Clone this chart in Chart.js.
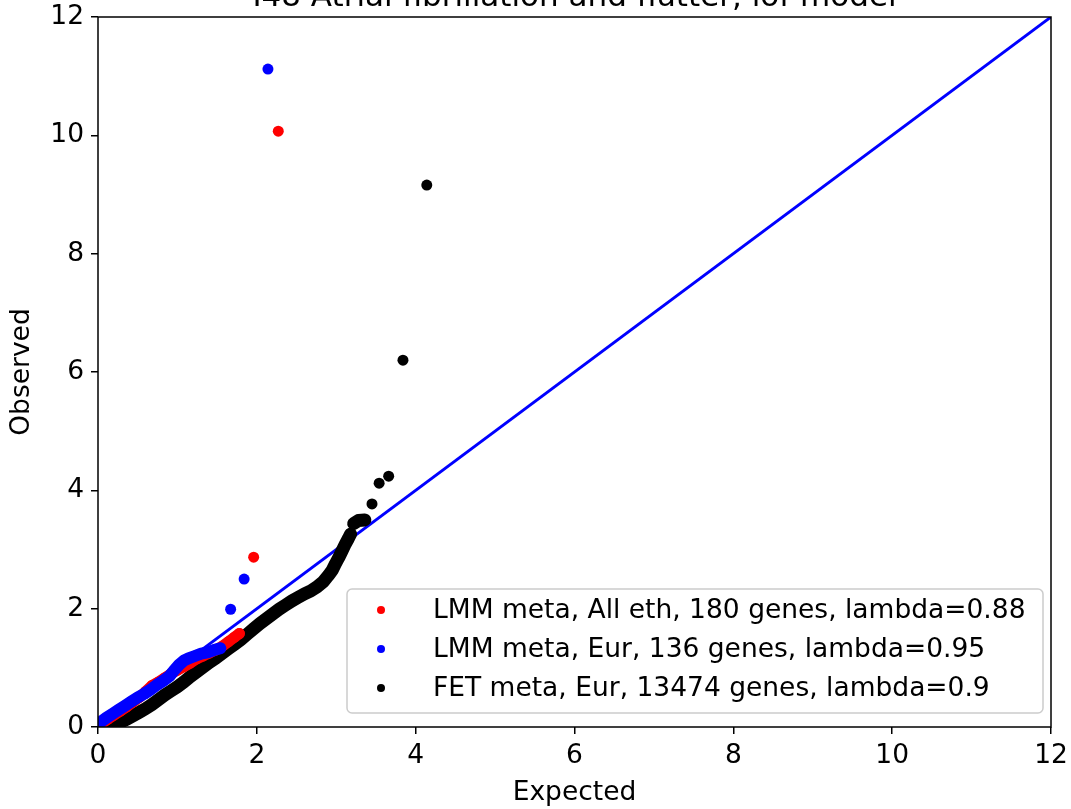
<!DOCTYPE html>
<html>
<head>
<meta charset="utf-8">
<script src="https://cdn.jsdelivr.net/npm/chart.js@4.4.1/dist/chart.umd.min.js"></script>
<style>
  body { margin: 0; background: #fff; }
  canvas { display: block; }
</style>
</head>
<body>
<canvas id="myChart" width="1071" height="809"></canvas>
<script>
var chartTitle = 'I48 Atrial fibrillation and flutter, lof model';
var seriesLabels = [
  'LMM meta, All eth, 180 genes, lambda=0.88',
  'LMM meta, Eur, 136 genes, lambda=0.95',
  'FET meta, Eur, 13474 genes, lambda=0.9'
];
var tickValues = [0, 2, 4, 6, 8, 10, 12];

// LMM meta, all ethnicities (red)
var redExpected = [0.05, 0.12, 0.2, 0.28, 0.36, 0.44, 0.52, 0.6, 0.68, 0.76, 0.84, 0.92, 1.0, 1.08, 1.16, 1.24, 1.32, 1.4, 1.48, 1.56, 1.64, 1.72, 1.78, 1.96, 2.27];
var redObserved = [0.06, 0.13, 0.2, 0.27, 0.34, 0.42, 0.5, 0.6, 0.7, 0.76, 0.83, 0.9, 0.96, 1.02, 1.08, 1.15, 1.2, 1.25, 1.3, 1.36, 1.44, 1.52, 1.58, 2.87, 10.07];

// LMM meta, Eur (blue)
var blueExpected = [0.03, 0.1, 0.18, 0.26, 0.34, 0.42, 0.5, 0.58, 0.66, 0.74, 0.82, 0.9, 0.96, 1.02, 1.08, 1.14, 1.22, 1.3, 1.38, 1.46, 1.54, 1.67, 1.84, 2.14];
var blueObserved = [0.08, 0.15, 0.22, 0.29, 0.36, 0.43, 0.5, 0.56, 0.63, 0.71, 0.78, 0.86, 0.96, 1.05, 1.12, 1.16, 1.2, 1.24, 1.26, 1.3, 1.33, 1.99, 2.5, 11.12];

// FET meta, Eur (black)
var blackExpected = [0.12, 0.2, 0.28, 0.36, 0.44, 0.52, 0.6, 0.68, 0.76, 0.84, 0.92, 1.0, 1.08, 1.16, 1.24, 1.32, 1.4, 1.48, 1.56, 1.64, 1.72, 1.8, 1.88, 1.96, 2.04, 2.12, 2.2, 2.28, 2.36, 2.44, 2.52, 2.6, 2.68, 2.76, 2.84, 2.9, 2.95, 2.99, 3.03, 3.07, 3.11, 3.15, 3.18, 3.22, 3.28, 3.36, 3.45, 3.54, 3.66, 3.84, 4.14];
var blackObserved = [0.0, 0.04, 0.08, 0.13, 0.19, 0.25, 0.31, 0.38, 0.46, 0.54, 0.61, 0.68, 0.76, 0.85, 0.93, 1.01, 1.09, 1.16, 1.24, 1.32, 1.4, 1.48, 1.57, 1.66, 1.75, 1.83, 1.91, 1.99, 2.06, 2.13, 2.19, 2.25, 2.3, 2.37, 2.46, 2.56, 2.65, 2.76, 2.86, 2.97, 3.08, 3.18, 3.26, 3.44, 3.49, 3.5, 3.77, 4.12, 4.24, 6.2, 9.16];

// diagonal
var diagonal = [0, 12];

var seriesColors = ['#ff0000', '#0000ff', '#000000'];
var FONT = 'DejaVu Sans';
var FS = 26.5;

function toPoints(xs, ys) {
  return xs.map(function (x, i) { return { x: x, y: ys[i] }; });
}

// dense runs of points are joined into a thick band, isolated points stay dots
function bandSegment(c) {
  var a = c.p0.parsed, b = c.p1.parsed;
  var d = Math.sqrt((a.x - b.x) * (a.x - b.x) + (a.y - b.y) * (a.y - b.y));
  return d > 0.14 ? 'rgba(0,0,0,0)' : undefined;
}

function pointSeries(label, xs, ys, color, order, width) {
  return {
    label: label,
    data: toPoints(xs, ys),
    backgroundColor: color,
    borderColor: color,
    showLine: true,
    borderWidth: width,
    borderCapStyle: 'round',
    borderJoinStyle: 'round',
    segment: { borderColor: bandSegment },
    pointBorderWidth: 0,
    pointRadius: 5.5,
    order: order
  };
}

function noOverflow(scale) {
  scale.paddingTop = 0;
  scale.paddingBottom = 0;
  scale.paddingLeft = 0;
  scale.paddingRight = 0;
}

var framePlugin = {
  id: 'frame',
  afterDraw: function (chart) {
    var ctx = chart.ctx;
    var a = chart.chartArea;
    ctx.save();
    ctx.strokeStyle = '#000';
    ctx.lineWidth = 1.5;
    ctx.strokeRect(a.left, a.top, a.right - a.left, a.bottom - a.top);

    // title, mostly cut off at top
    ctx.fillStyle = '#000';
    ctx.font = '31px "' + FONT + '"';
    ctx.textAlign = 'center';
    ctx.textBaseline = 'alphabetic';
    ctx.fillText(chartTitle, (a.left + a.right) / 2, 6);

    // legend box inside axes, lower right
    var bx = 347, by = 589, bw = 696, bh = 124, r = 5;
    ctx.beginPath();
    ctx.moveTo(bx + r, by);
    ctx.arcTo(bx + bw, by, bx + bw, by + bh, r);
    ctx.arcTo(bx + bw, by + bh, bx, by + bh, r);
    ctx.arcTo(bx, by + bh, bx, by, r);
    ctx.arcTo(bx, by, bx + bw, by, r);
    ctx.closePath();
    ctx.fillStyle = 'rgba(255,255,255,0.8)';
    ctx.fill();
    ctx.strokeStyle = '#cccccc';
    ctx.lineWidth = 1.5;
    ctx.stroke();

    ctx.font = FS + 'px "' + FONT + '"';
    ctx.textAlign = 'left';
    ctx.textBaseline = 'middle';
    for (var i = 0; i < seriesLabels.length; i++) {
      var yy = 610 + i * 39;
      ctx.beginPath();
      ctx.arc(381, yy, 4, 0, Math.PI * 2);
      ctx.fillStyle = seriesColors[i];
      ctx.fill();
      ctx.fillStyle = '#000';
      ctx.fillText(seriesLabels[i], 433, yy + 1);
    }
    ctx.restore();
  }
};

var ctx = document.getElementById('myChart').getContext('2d');
var chart = new Chart(ctx, {
  type: 'scatter',
  data: {
    datasets: [
      {
        label: 'diagonal',
        data: toPoints(diagonal, diagonal),
        showLine: true,
        borderColor: '#0000ff',
        borderWidth: 3,
        pointRadius: 0,
        order: 4
      },
      pointSeries(seriesLabels[2], blackExpected, blackObserved, seriesColors[2], 3, 13),
      pointSeries(seriesLabels[0], redExpected, redObserved, seriesColors[0], 2, 11),
      pointSeries(seriesLabels[1], blueExpected, blueObserved, seriesColors[1], 1, 12)
    ]
  },
  options: {
    responsive: false,
    animation: false,
    events: [],
    layout: { padding: { top: 17, right: 20, left: 0, bottom: 0 } },
    plugins: {
      legend: { display: false },
      tooltip: { enabled: false }
    },
    scales: {
      x: {
        type: 'linear',
        min: 0,
        max: 12,
        afterFit: function (scale) { scale.height = 82; noOverflow(scale); },
        afterBuildTicks: function (scale) {
          scale.ticks = tickValues.map(function (v) { return { value: v }; });
        },
        border: { display: false },
        grid: { drawOnChartArea: false, drawTicks: true, tickLength: 7, color: '#000', lineWidth: 1.5 },
        ticks: { color: '#000', font: { family: FONT, size: FS }, padding: 6, maxRotation: 0 },
        title: { display: true, text: 'Expected', color: '#000', font: { family: FONT, size: FS }, padding: { top: 0, bottom: 0 } }
      },
      y: {
        type: 'linear',
        min: 0,
        max: 12,
        afterFit: function (scale) { scale.width = 98; noOverflow(scale); },
        afterBuildTicks: function (scale) {
          scale.ticks = tickValues.map(function (v) { return { value: v }; });
        },
        border: { display: false },
        grid: { drawOnChartArea: false, drawTicks: true, tickLength: 7, color: '#000', lineWidth: 1.5 },
        ticks: { color: '#000', font: { family: FONT, size: FS }, padding: 7 },
        title: { display: true, text: 'Observed', color: '#000', font: { family: FONT, size: FS }, padding: { top: 6, bottom: 0 } }
      }
    }
  },
  plugins: [framePlugin]
});
</script>
</body>
</html>
